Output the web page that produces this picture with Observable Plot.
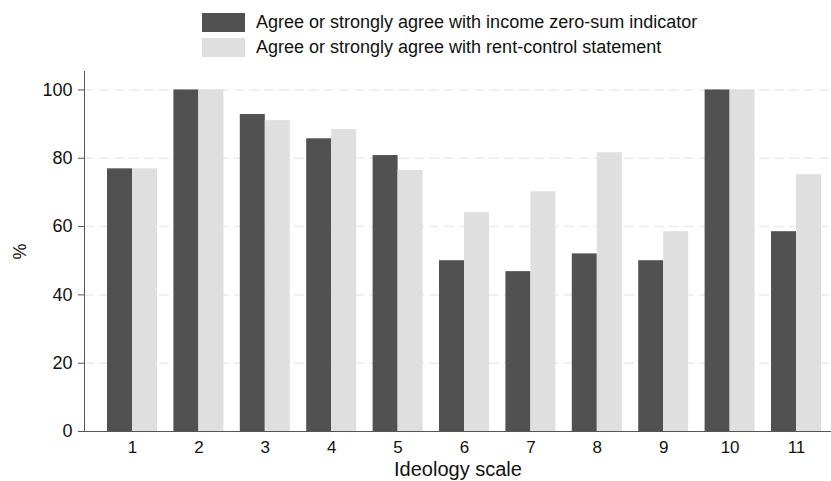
<!DOCTYPE html>
<html><head><meta charset="utf-8">
<script src="https://cdn.jsdelivr.net/npm/d3@7"></script>
<script src="https://cdn.jsdelivr.net/npm/@observablehq/plot@0.6"></script>
<style>
body{margin:0;background:#fff;font-family:"Liberation Sans",Arial,sans-serif;}
#legend{position:relative;height:65px;width:831px;}
.item{position:absolute;left:202px;height:19px;display:flex;align-items:center;font-size:18px;color:#111;white-space:nowrap;}
.sw{width:43px;height:19px;margin-right:11px;flex:none;}
#chart svg{display:block;}
</style></head><body>
<div id="legend"></div><div id="chart"></div>
<script>
const ideology = ["1","2","3","4","5","6","7","8","9","10","11"];
const zeroSum = [76.9, 100, 92.8, 85.7, 80.8, 50.0, 46.8, 52.0, 50.0, 100, 58.5];
const rentControl = [76.9, 100, 91.0, 88.4, 76.4, 64.1, 70.2, 81.6, 58.5, 100, 75.2];
const seriesLabels = ["Agree or strongly agree with income zero-sum indicator", "Agree or strongly agree with rent-control statement"];
const seriesColors = ["#515151", "#dfdfdf"];
const yTicks = [0, 20, 40, 60, 80, 100];

const legend = document.getElementById("legend");
seriesLabels.forEach((lab, i) => {
  const d = document.createElement("div");
  d.className = "item";
  d.style.top = (13 + i * 25) + "px";
  d.innerHTML = `<span class="sw" style="background:${seriesColors[i]}"></span><span>${lab}</span>`;
  legend.appendChild(d);
});

const data = ideology.flatMap((k, i) => [
  {k, s: 0, v: zeroSum[i]},
  {k, s: 1, v: rentControl[i]}
]);

const chart = Plot.plot({
  width: 831, height: 416,
  marginLeft: 84, marginRight: 0, marginTop: 6, marginBottom: 50,
  style: {fontFamily: "Liberation Sans, Arial, sans-serif", fontSize: "17px", color: "#111", background: "#fff", overflow: "visible"},
  x: {domain: ideology, paddingInner: 0.247, paddingOuter: 0.2485, align: 0.697, round: false},
  y: {domain: [0, 105.4]},
  marks: [
    Plot.gridY(yTicks.slice(1), {stroke: "#ebebeb", strokeOpacity: 1, strokeWidth: 1.5, strokeDasharray: "10,5"}),
    Plot.barY(data.filter(d => d.s === 0), {x: "k", y: "v", fill: seriesColors[0], insetRight: 25, insetLeft: 0}),
    Plot.barY(data.filter(d => d.s === 1), {x: "k", y: "v", fill: seriesColors[1], insetLeft: 25, insetRight: 0}),
    Plot.frame({anchor: "left", stroke: "#555"}),
    Plot.frame({anchor: "bottom", stroke: "#555"}),
    Plot.axisY({ticks: yTicks, tickSize: 6, tickPadding: 6, stroke: "#555", label: null, fontSize: 18}),
    Plot.axisY({ticks: [], label: "%", labelAnchor: "center", labelArrow: false, labelOffset: 71, fontSize: 18}),
    Plot.axisX({tickSize: 0, tickPadding: 9, label: null, fontSize: 17}),
    Plot.axisX({ticks: [], label: "Ideology scale", labelAnchor: "center", labelArrow: false, labelOffset: 44, fontSize: 20})
  ]
});
document.getElementById("chart").appendChild(chart);
</script>
</body></html>
